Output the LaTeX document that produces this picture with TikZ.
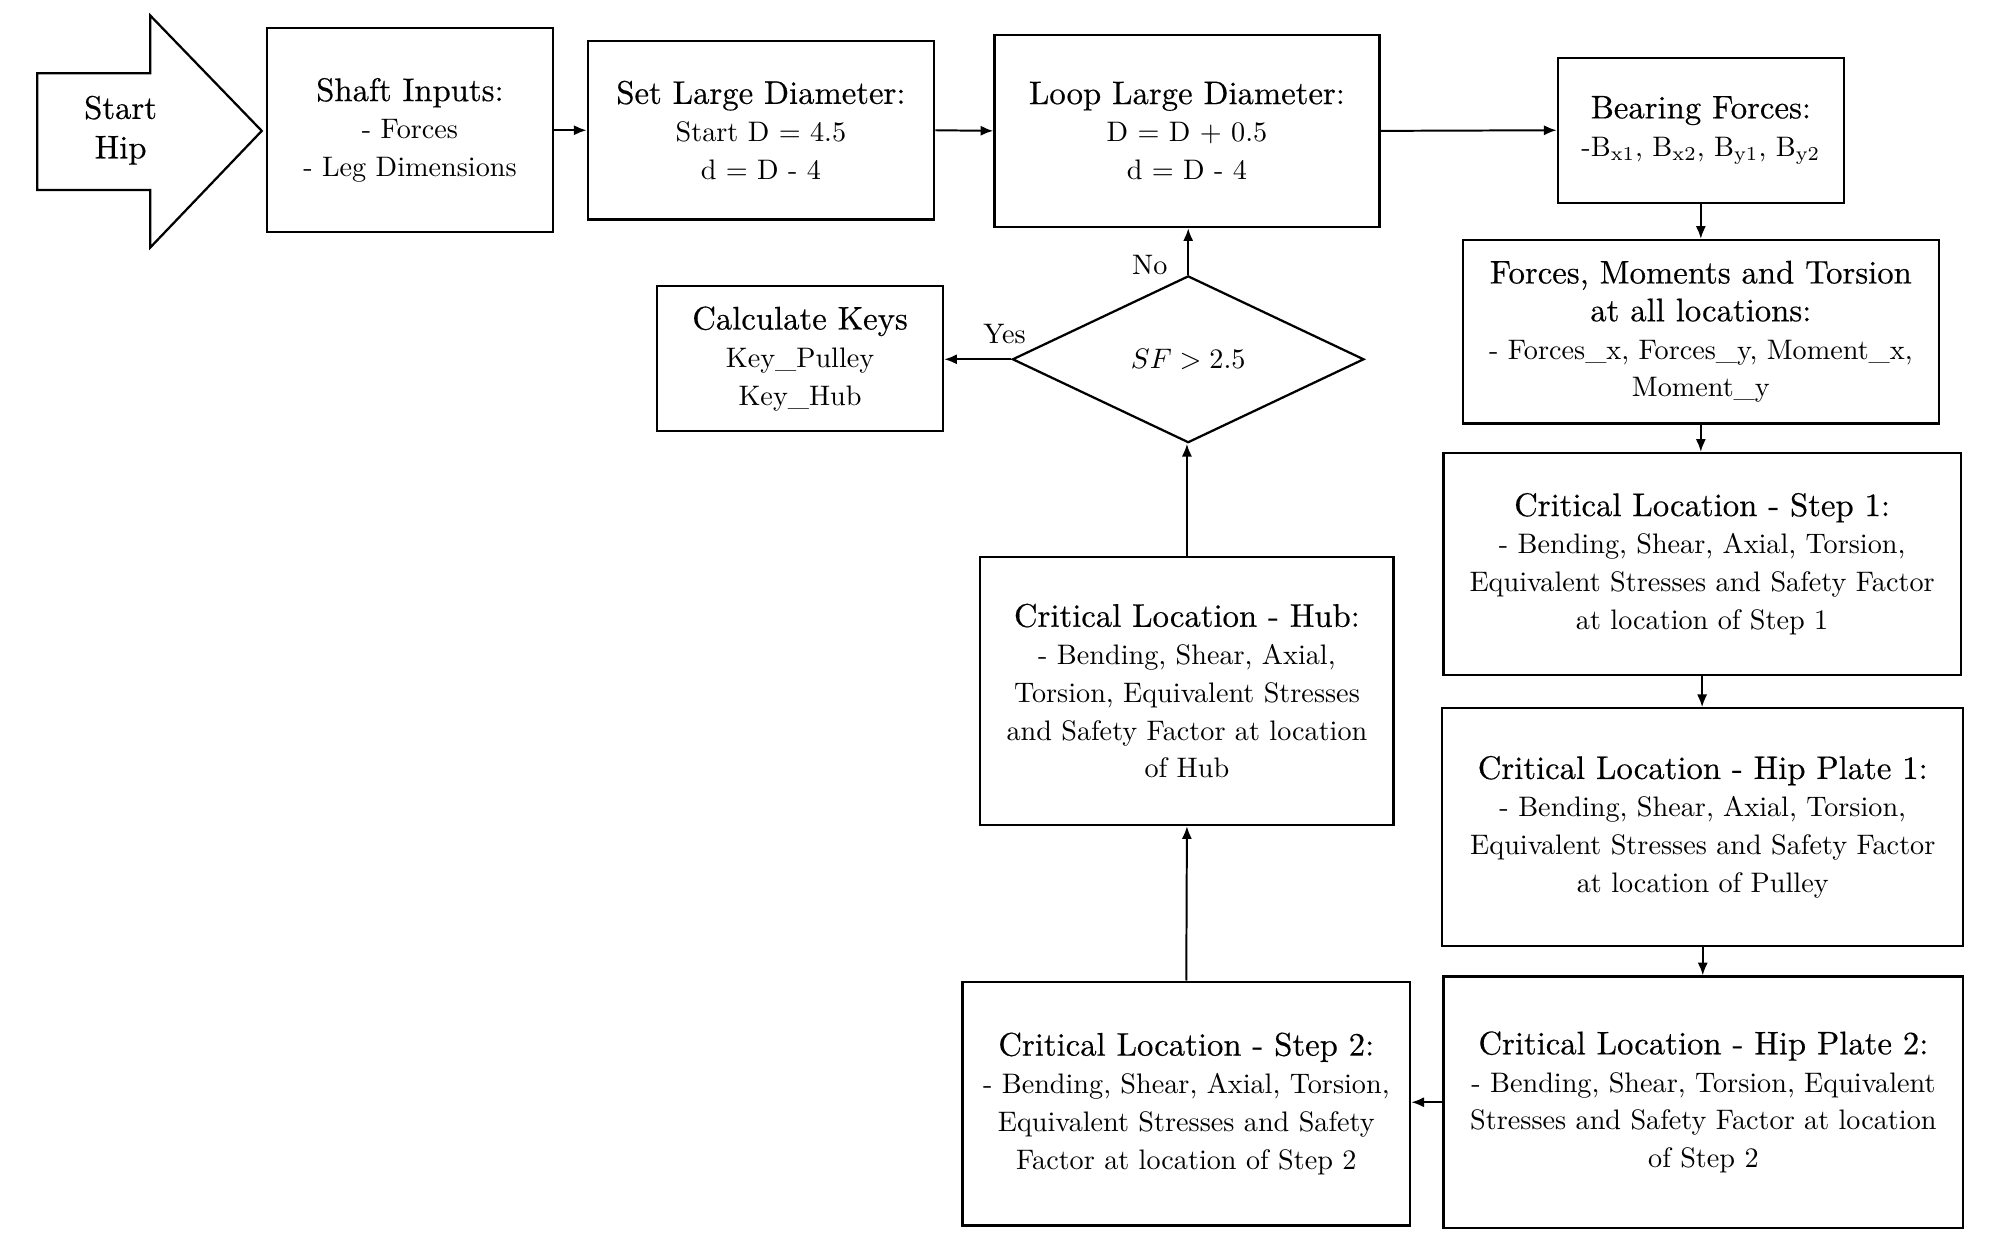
\documentclass[tikz,border=0pt]{standalone}
\usepackage{fontspec}
\usetikzlibrary{arrows.meta,shapes.geometric}
\newfontfamily\demi[FakeBold=0.45]{lmroman10-regular.otf}
\newlength\U
\setlength\U{0.455pt}
\newcommand\hd[1]{{\demi\fontsize{11.6}{13.4}\selectfont #1}}
\tikzset{
  box/.style={draw, line width=0.8pt, align=center, inner sep=0pt,
    font=\fontsize{10}{13.4}\selectfont},
  conn/.style={line width=0.7pt, -{Latex[length=4.5pt,width=3.6pt]}},
  lbl/.style={font=\fontsize{10}{12}\selectfont, inner sep=1pt}
}
\begin{document}
\begin{tikzpicture}[x=0.455pt,y=-0.455pt]
\useasboundingbox (0,0) rectangle (1568,969);
% start arrow
\draw[line width=0.8pt] (29,57) -- (117,57) -- (117,12) -- (204,102) -- (117,193) -- (117,148) -- (29,148) -- cycle;
\node[align=center, inner sep=0pt, font=\fontsize{11.6}{14}\selectfont\demi] (start) at (94,101.5) {Start\\Hip};

\node[box, minimum width=223*\U, minimum height=159*\U] (inputs) at (319.5,101.5)
  {\hd{Shaft Inputs:}\\- Forces\\- Leg Dimensions};
\node[box, minimum width=270*\U, minimum height=139*\U] (setd) at (593,101.5)
  {\hd{Set Large Diameter:}\\Start D = 4.5\\d = D - 4};
\node[box, minimum width=300*\U, minimum height=150*\U] (loopd) at (925,102)
  {\hd{Loop Large Diameter:}\\D = D + 0.5\\d = D - 4};
\node[box, minimum width=223*\U, minimum height=113*\U] (bear) at (1325.5,101.5)
  {\hd{Bearing Forces:}\\-B\textsubscript{x1}, B\textsubscript{x2}, B\textsubscript{y1}, B\textsubscript{y2}};
\node[box, minimum width=371*\U, minimum height=143*\U] (forces) at (1325.5,258.5)
  {\hd{Forces, Moments and Torsion}\\\hd{at all locations:}\\- Forces\_x, Forces\_y, Moment\_x,\\Moment\_y};
\node[box, minimum width=403*\U, minimum height=173*\U] (step1) at (1326.5,439.5)
  {\hd{Critical Location - Step 1:}\\- Bending, Shear, Axial, Torsion,\\Equivalent Stresses and Safety Factor\\at location of Step 1};
\node[box, minimum width=406*\U, minimum height=185*\U] (hp1) at (1327,644.5)
  {\hd{Critical Location - Hip Plate 1:}\\- Bending, Shear, Axial, Torsion,\\Equivalent Stresses and Safety Factor\\at location of Pulley};
\node[box, minimum width=405*\U, minimum height=196*\U] (hp2) at (1327.5,859)
  {\hd{Critical Location - Hip Plate 2:}\\- Bending, Shear, Torsion, Equivalent\\Stresses and Safety Factor at location\\of Step 2};
\node[box, minimum width=349*\U, minimum height=190*\U] (step2) at (924.5,860)
  {\hd{Critical Location - Step 2:}\\- Bending, Shear, Axial, Torsion,\\Equivalent Stresses and Safety\\Factor at location of Step 2};
\node[box, minimum width=322*\U, minimum height=209*\U] (hub) at (925,538.5)
  {\hd{Critical Location - Hub:}\\- Bending, Shear, Axial,\\Torsion, Equivalent Stresses\\and Safety Factor at location\\of Hub};
\node[box, minimum width=223*\U, minimum height=113*\U] (keys) at (623.5,279.5)
  {\hd{Calculate Keys}\\Key\_Pulley\\Key\_Hub};
\node[box, diamond, aspect=2.1, minimum width=274*\U, minimum height=130*\U] (dia) at (926,280)
  {$SF > 2.5$};

\draw[conn] (inputs.east) -- (setd.west);
\draw[conn] (setd.east) -- (loopd.west);
\draw[conn] (loopd.east) -- (bear.west);
\draw[conn] (bear.south) -- (bear.south |- forces.north);
\draw[conn] (forces.south) -- (forces.south |- step1.north);
\draw[conn] (step1.south) -- (step1.south |- hp1.north);
\draw[conn] (hp1.south) -- (hp1.south |- hp2.north);
\draw[conn] (hp2.west) -- (hp2.west -| step2.east);
\draw[conn] (step2.north) -- (hub.south);
\draw[conn] (hub.north) -- (hub.north |- dia.south);
\draw[conn] (dia.north) -- (dia.north |- loopd.south) node[lbl, pos=0.2, left=6pt] {No};
\draw[conn] (dia.west) -- (dia.west -| keys.east) node[lbl, pos=0.1, above=4pt] {Yes};
\end{tikzpicture}
\end{document}
